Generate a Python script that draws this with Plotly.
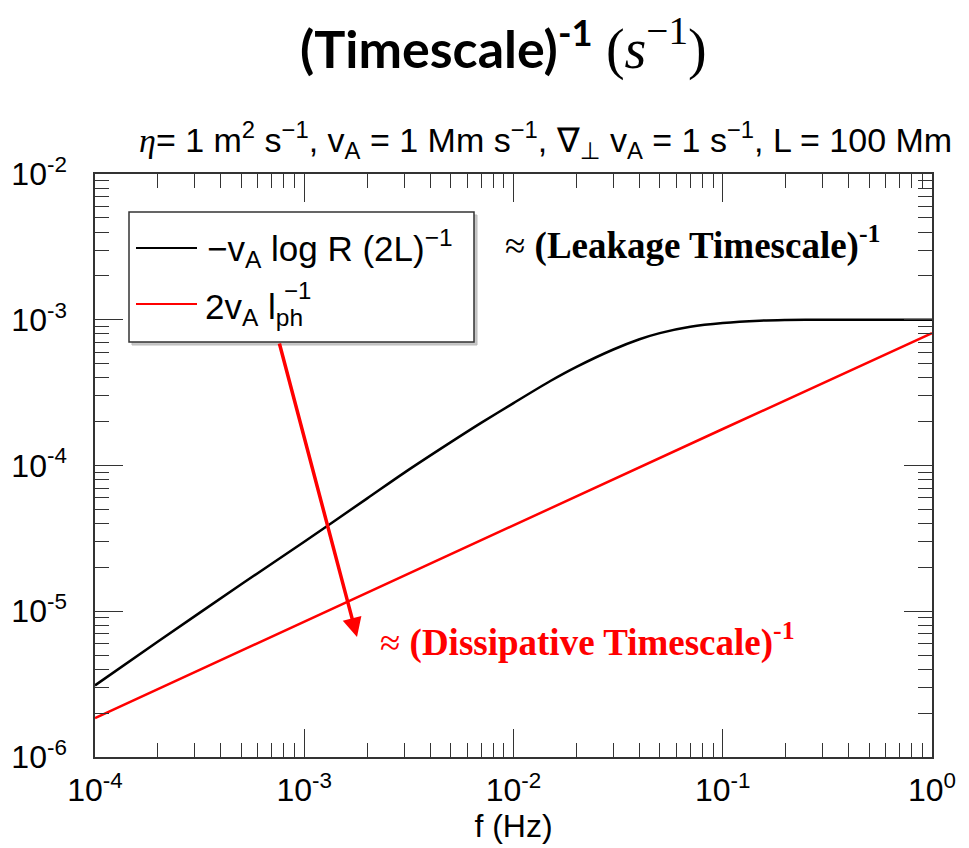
import plotly.graph_objects as go

# ---- data ----
freq = [1e-4, 2e-4, 5e-4, 1e-3, 2e-3, 3e-3, 5e-3, 7e-3, 1e-2, 1.5e-2, 2e-2, 3e-2,
        4e-2, 5e-2, 7e-2, 1e-1, 1.5e-1, 2e-1, 3e-1, 5e-1, 1.0]
leak = [3.1e-6, 6.2e-6, 1.53e-5, 3.0e-5, 5.95e-5, 8.9e-5, 1.44e-4, 1.96e-4, 2.68e-4,
        3.8e-4, 4.75e-4, 6.25e-4, 7.35e-4, 8.1e-4, 8.95e-4, 9.5e-4, 9.85e-4, 9.95e-4,
        1.0e-3, 1.0e-3, 1.0e-3]
freq_diss = [1e-4, 1e-3, 1e-2, 1e-1, 1.0]
diss = [1.85e-6, 8.5e-6, 3.9e-5, 1.78e-4, 8.1e-4]

x_tickvals = [1e-4, 1e-3, 1e-2, 1e-1, 1]
x_ticktext = ["10<sup>-4</sup>", "10<sup>-3</sup>", "10<sup>-2</sup>", "10<sup>-1</sup>", "10<sup>0</sup>"]
y_tickvals = [1e-6, 1e-5, 1e-4, 1e-3, 1e-2]
y_ticktext = ["10<sup>-6</sup>", "10<sup>-5</sup>", "10<sup>-4</sup>", "10<sup>-3</sup>", "10<sup>-2</sup>"]

W, H = 969, 848
L, R, T, B = 95, 932, 174, 757


def px(x):
    return (x - L) / (R - L)


def py(y):
    return (B - y) / (B - T)


SANS = "Liberation Sans, Arial, Helvetica, sans-serif"
SERIF = "Liberation Serif, Times New Roman, serif"

fig = go.Figure()
fig.add_trace(go.Scatter(x=freq, y=leak, mode="lines",
                         line=dict(color="black", width=2.5, shape="spline", smoothing=0.8),
                         showlegend=False))
fig.add_trace(go.Scatter(x=freq_diss, y=diss, mode="lines", line=dict(color="#ff0000", width=2.5),
                         showlegend=False))

minor_x = [k * 10.0 ** e for e in range(-4, 0) for k in range(2, 10)]
minor_y = [k * 10.0 ** e for e in range(-6, -2) for k in range(2, 10)]

axis_common = dict(type="log", showgrid=False, zeroline=False, showline=True, linecolor="#333",
                   linewidth=1.5, mirror="allticks", ticks="inside", ticklen=28, tickwidth=1.2,
                   tickcolor="#333", tickfont=dict(family=SANS, size=32, color="black"))

fig.update_xaxes(range=[-4, 0], tickmode="array", tickvals=x_tickvals, ticktext=x_ticktext,
                 minor=dict(ticks="inside", ticklen=14, tickwidth=1.2, tickcolor="#333", tickvals=minor_x),
                 title=dict(text="f (Hz)", font=dict(family=SANS, size=32, color="black"), standoff=2),
                 ticklabelstandoff=4,
                 **axis_common)
fig.update_yaxes(range=[-6, -2], tickmode="array", tickvals=y_tickvals, ticktext=y_ticktext,
                 minor=dict(ticks="inside", ticklen=14, tickwidth=1.2, tickcolor="#333", tickvals=minor_y),
                 ticklabelstandoff=20,
                 **axis_common)

shapes = []
# legend box shadow and box
shapes.append(dict(type="rect", xref="paper", yref="paper", x0=px(132), x1=px(477), y0=py(345), y1=py(215),
                   line=dict(color="#bbb", width=1), fillcolor="#c8c8c8", layer="above"))
shapes.append(dict(type="rect", xref="paper", yref="paper", x0=px(129), x1=px(474), y0=py(342), y1=py(212),
                   line=dict(color="#333", width=1.5), fillcolor="white", layer="above"))
shapes.append(dict(type="line", xref="paper", yref="paper", x0=px(136), x1=px(197), y0=py(248), y1=py(248),
                   line=dict(color="black", width=2), layer="above"))
shapes.append(dict(type="line", xref="paper", yref="paper", x0=px(136), x1=px(197), y0=py(304), y1=py(304),
                   line=dict(color="#ff0000", width=2), layer="above"))

annotations = [
    dict(text="<b>(Timescale)</b><sup><b>-1</b></sup> <span style='font-family:Liberation Serif;font-size:56px'>(<i>s</i><sup>−1</sup>)</span>",
         xref="paper", yref="paper", x=px(503), y=py(45), xanchor="center", yanchor="middle",
         showarrow=False, font=dict(family="Lato, Open Sans, sans-serif", size=52, color="black")),
    dict(text="<i style='font-family:Liberation Serif'>η</i>= 1 m<sup>2</sup> s<sup>−1</sup>, v<sub>A</sub> = 1 Mm s<sup>−1</sup>, ∇<sub><span style='font-family:DejaVu Sans;color:black'>⊥</span></sub> v<sub>A</sub> = 1 s<sup>−1</sup>, L = 100 Mm",
         xref="paper", yref="paper", x=px(545), y=py(140), xanchor="center", yanchor="middle",
         showarrow=False, font=dict(family=SANS, size=34, color="black")),
    dict(text="−v<sub>A</sub> log R (2L)<sup>−1</sup>", xref="paper", yref="paper", x=px(205), y=py(248),
         xanchor="left", yanchor="middle", showarrow=False, font=dict(family=SANS, size=35, color="black")),
    dict(text="2v<sub>A</sub> l<sub>ph</sub>", xref="paper", yref="paper", x=px(203), y=py(309),
         xanchor="left", yanchor="middle", showarrow=False, font=dict(family=SANS, size=35, color="black")),
    dict(text="−1", xref="paper", yref="paper", x=px(282), y=py(290),
         xanchor="left", yanchor="middle", showarrow=False, font=dict(family=SANS, size=24, color="black")),
    dict(text="≈ <b>(Leakage Timescale)</b><sup><b>-1</b></sup>", xref="paper", yref="paper", x=px(503), y=py(243),
         xanchor="left", yanchor="middle", showarrow=False, font=dict(family=SERIF, size=37, color="black")),
    dict(text="≈ <b>(Dissipative Timescale)</b><sup><b>-1</b></sup>", xref="paper", yref="paper", x=px(378), y=py(640),
         xanchor="left", yanchor="middle", showarrow=False, font=dict(family=SERIF, size=37, color="#ff0000")),
    dict(text="", xref="paper", yref="paper", x=px(357), y=py(637), axref="pixel", ayref="pixel",
         ax=279 - 357, ay=342 - 637, showarrow=True, arrowhead=2, arrowsize=1.1, arrowwidth=3.5,
         arrowcolor="#ff0000", standoff=0, startstandoff=0),
]

fig.update_layout(width=W, height=H, margin=dict(l=L, r=W - R, t=T, b=H - B),
                  paper_bgcolor="white", plot_bgcolor="white", shapes=shapes, annotations=annotations,
                  showlegend=False)

fig.write_html("out.html")
